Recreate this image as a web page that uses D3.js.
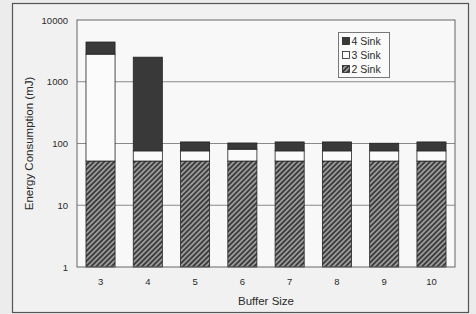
<!DOCTYPE html>
<html>
<head>
<meta charset="utf-8">
<script src="https://cdn.jsdelivr.net/npm/d3@7"></script>
<style>
  body { margin: 0; background: #ececec; }
  text { font-family: Arial, "Liberation Sans", sans-serif; fill: #2a2a2a; }
</style>
</head>
<body>
<div id="chart"></div>
<script>
const bufferSizes = ['3', '4', '5', '6', '7', '8', '9', '10'];
const sink2 = [52, 52, 52, 52, 52, 52, 52, 52];
const sink3 = [2748, 24, 24, 29, 24, 24, 24, 24];
const sink4 = [1600, 2424, 30, 21, 30, 30, 25, 30];
const yTicks = [1, 10, 100, 1000, 10000];
const seriesNames = ['2 Sink', '3 Sink', '4 Sink'];

const width = 476, height = 314;
const margin = { left: 77, top: 20, right: 21, bottom: 47 };

const svg = d3.select('#chart').append('svg')
  .attr('width', width)
  .attr('height', height);

// hatch for the 2 Sink series
const defs = svg.append('defs');
const hatch = defs.append('pattern')
  .attr('id', 'hatch')
  .attr('patternUnits', 'userSpaceOnUse')
  .attr('width', 3.6).attr('height', 3.6)
  .attr('patternTransform', 'rotate(45)');
hatch.append('rect').attr('width', 3.6).attr('height', 3.6).attr('fill', '#9a9a9a');
hatch.append('rect').attr('width', 1.8).attr('height', 3.6).attr('fill', '#3c3c3c');

// outer frame of the scanned figure
svg.append('rect')
  .attr('x', 12.5).attr('y', 3.5)
  .attr('width', 456).attr('height', 309)
  .attr('fill', '#f1f1f1')
  .attr('stroke', '#555').attr('stroke-width', 1.2);

const rows = bufferSizes.map((b, i) => ({
  size: b, '2 Sink': sink2[i], '3 Sink': sink3[i], '4 Sink': sink4[i]
}));
const stacked = d3.stack().keys(seriesNames)(rows);

const x = d3.scaleBand()
  .domain(bufferSizes)
  .range([margin.left, width - margin.right])
  .paddingInner(0.385)
  .paddingOuter(0.19);

const y = d3.scaleLog()
  .domain([1, 10000])
  .range([height - margin.bottom, margin.top]);

const fills = { '2 Sink': 'url(#hatch)', '3 Sink': '#fbfbfb', '4 Sink': '#393939' };

// plot area
svg.append('rect')
  .attr('x', margin.left).attr('y', margin.top)
  .attr('width', width - margin.left - margin.right)
  .attr('height', height - margin.top - margin.bottom)
  .attr('fill', '#f8f8f8');

svg.append('g')
  .attr('stroke', '#8a8a8a')
  .selectAll('line')
  .data(yTicks.slice(1, -1))
  .enter().append('line')
    .attr('x1', margin.left).attr('x2', width - margin.right)
    .attr('y1', d => y(d)).attr('y2', d => y(d));

svg.append('g')
  .selectAll('g')
  .data(stacked)
  .enter().append('g')
    .attr('fill', d => fills[d.key])
    .attr('stroke', '#222')
    .attr('stroke-width', 0.8)
  .selectAll('rect')
  .data(d => d)
  .enter().append('rect')
    .attr('x', d => x(d.data.size))
    .attr('width', x.bandwidth())
    .attr('y', d => y(d[1]))
    .attr('height', d => y(Math.max(1, d[0])) - y(d[1]));

svg.append('rect')
  .attr('x', margin.left).attr('y', margin.top)
  .attr('width', width - margin.left - margin.right)
  .attr('height', height - margin.top - margin.bottom)
  .attr('fill', 'none')
  .attr('stroke', '#666');

const yAxis = d3.axisLeft(y)
  .tickValues(yTicks)
  .tickFormat(d3.format('d'))
  .tickSize(0)
  .tickPadding(9);
svg.append('g')
  .attr('transform', `translate(${margin.left},0)`)
  .call(yAxis)
  .call(g => g.select('.domain').remove())
  .selectAll('text')
    .attr('font-size', 9.5)
    .attr('font-family', 'Arial, "Liberation Sans", sans-serif');

const xAxis = d3.axisBottom(x).tickSize(0).tickPadding(11);
svg.append('g')
  .attr('transform', `translate(0,${height - margin.bottom})`)
  .call(xAxis)
  .call(g => g.select('.domain').remove())
  .selectAll('text')
    .attr('font-size', 9.5)
    .attr('font-family', 'Arial, "Liberation Sans", sans-serif');

svg.append('text')
  .attr('x', (margin.left + width - margin.right) / 2)
  .attr('y', 305)
  .attr('text-anchor', 'middle')
  .attr('font-size', 11.5)
  .text('Buffer Size');

svg.append('text')
  .attr('transform', `translate(33,${(margin.top + height - margin.bottom) / 2}) rotate(-90)`)
  .attr('text-anchor', 'middle')
  .attr('font-size', 11.5)
  .text('Energy Consumption (mJ)');

// legend
const legend = svg.append('g').attr('transform', 'translate(338.5,32.5)');
legend.append('rect')
  .attr('width', 51).attr('height', 45)
  .attr('fill', '#fbfbfb').attr('stroke', '#777');
const entries = seriesNames.slice().reverse();
const item = legend.selectAll('g.item')
  .data(entries)
  .enter().append('g')
    .attr('class', 'item')
    .attr('transform', (d, i) => `translate(4,${5 + i * 14})`);
item.append('rect')
  .attr('width', 7).attr('height', 7)
  .attr('fill', d => fills[d])
  .attr('stroke', '#222').attr('stroke-width', 0.8);
item.append('text')
  .attr('x', 9).attr('y', 7)
  .attr('font-size', 10.5)
  .text(d => d);
</script>
</body>
</html>
